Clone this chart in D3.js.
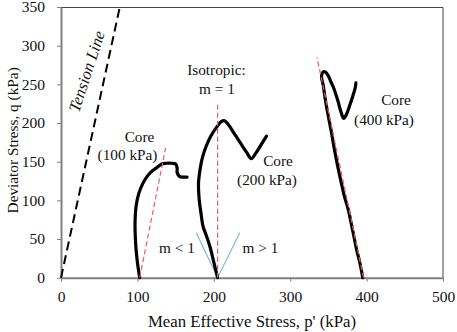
<!DOCTYPE html>
<html>
<head>
<meta charset="utf-8">
<script src="https://cdn.jsdelivr.net/npm/d3@7"></script>
<style>
  body { margin: 0; background: #fff; }
  svg text { font-family: 'Liberation Serif', Tinos, 'Times New Roman', 'DejaVu Serif', serif !important; }
</style>
</head>
<body>
<svg id="chart"></svg>
<script>
// p' (kPa), q (kPa)
const core100 = [[103,0],[100,20],[98,40],[97,60],[97,75],[98,90],[100,102],[104,115],[110,127],[117,136],[125,142],[132,147],[138,148],[145,148],[150,147],[152,142],[152,136],[155,131],[160,130],[165,130]];
const core200 = [[205,0],[200,20],[195,40],[190,55],[186,66],[183,85],[181,100],[180,122],[182,140],[185,155],[190,170],[196,183],[204,195],[210,202],[214,203],[219,198],[227,186],[235,174],[243,162],[249,154],[255,161],[262,172],[269,183]];
const core400 = [[395,0],[391,20],[387,36],[382,60],[376,88],[371,105],[367,122],[362,145],[358,165],[354,188],[350,208],[346,230],[343,250],[341,260],[343,266],[346,266],[350,261],[353,254],[357,245],[362,230],[366,216],[370,206],[374,212],[378,223],[382,235],[385,245],[386,252]];

const redLines = [
  [[103,0],[137,168]],
  [[205,0],[205,225]],
  [[396,0],[335,285]]
];
const blueLine = [[177,58],[205,0],[234,58]];
const tensionLine = [[0,0],[77,350]];

const xTicks = [0, 100, 200, 300, 400, 500];
const yTicks = [0, 50, 100, 150, 200, 250, 300, 350];

const margin = {top: 7, bottom: 54.3, left: 61, right: 14};
const width = 457 - margin.left - margin.right;
const height = 332 - margin.top - margin.bottom;

const svg = d3.select('#chart')
.attr('width', 457)
.attr('height', 332)
.append('g')
.attr('transform', `translate(${margin.left}, ${margin.top})`);

const x = d3.scaleLinear().domain([0, 500]).range([0, width]);
const y = d3.scaleLinear().domain([0, 350]).range([height, 0]);

// top and right frame
svg.append('path')
.attr('d', `M0,0.5H${width}V${height}`)
.attr('fill', 'none')
.attr('stroke', '#444')
.attr('stroke-width', 1);

const xAxis = svg.append('g')
.attr('transform', `translate(0, ${height})`)
.call(d3.axisBottom(x).tickValues(xTicks).tickSize(4).tickPadding(9).tickSizeOuter(0));

const yAxis = svg.append('g')
.call(d3.axisLeft(y).tickValues(yTicks).tickSize(4).tickPadding(12).tickSizeOuter(0));

[xAxis, yAxis].forEach(a => {
  a.attr('font-family', null).attr('font-size', null);
  a.select('.domain').attr('stroke', '#808080').attr('stroke-width', 2);
  a.selectAll('.tick line').attr('stroke', '#808080').attr('stroke-width', 1);
  a.selectAll('.tick text')
  .attr('fill', '#111')
  .style('font-size', '15.5px');
});

svg.append('text')
.attr('x', width / 2)
.attr('y', height + 49)
.attr('text-anchor', 'middle')
.style('font-size', '16.8px')
.attr('fill', '#111')
.text("Mean Effective Stress, p' (kPa)");

svg.append('text')
.attr('transform', 'rotate(-90)')
.attr('x', -height / 2 + 2)
.attr('y', -43)
.attr('text-anchor', 'middle')
.style('font-size', '15.3px')
.attr('fill', '#111')
.text('Deviator Stress, q (kPa)');

const line = d3.line()
.x(d => x(d[0]))
.y(d => y(d[1]));

// tension line
svg.append('path')
.datum(tensionLine)
.attr('fill', 'none')
.attr('stroke', '#000')
.attr('stroke-width', 2)
.attr('stroke-dasharray', '9,5')
.attr('d', line);

// blue m lines
svg.append('path')
.datum(blueLine)
.attr('fill', 'none')
.attr('stroke', '#7ab8dc')
.attr('stroke-width', 1.2)
.attr('d', line);

// core curves
const smooth = d3.line()
.x(d => x(d[0]))
.y(d => y(d[1]))
.curve(d3.curveCatmullRom);

[core100, core200, core400].forEach(c => {
  svg.append('path')
  .datum(c)
  .attr('fill', 'none')
  .attr('stroke', '#000')
  .attr('stroke-width', 3.2)
  .attr('stroke-linejoin', 'round')
  .attr('stroke-linecap', 'round')
  .attr('d', smooth);
});

// red dashed lines
redLines.forEach(r => {
  svg.append('path')
  .datum(r)
  .attr('fill', 'none')
  .attr('stroke', '#ee5a62')
  .attr('stroke-width', 1.2)
  .attr('stroke-dasharray', '5,3')
  .attr('d', line);
});

const labels = [
  {t: 'Core', px: 139.5, py: 141.5},
  {t: '(100 kPa)', px: 127.5, py: 160},
  {t: 'Isotropic:', px: 216.5, py: 75},
  {t: 'm = 1', px: 217, py: 94},
  {t: 'Core', px: 278, py: 165.5},
  {t: '(200 kPa)', px: 267, py: 185},
  {t: 'Core', px: 396, py: 105},
  {t: '(400 kPa)', px: 384, py: 125},
  {t: 'm < 1', px: 177, py: 252.5},
  {t: 'm > 1', px: 260.5, py: 252.5}
];

labels.forEach(l => {
  svg.append('text')
  .attr('x', l.px - margin.left)
  .attr('y', l.py - margin.top)
  .attr('text-anchor', 'middle')
  .style('font-size', '15.3px')
  .attr('fill', '#111')
  .text(l.t);
});

svg.append('text')
.attr('transform', `translate(${92 - margin.left}, ${73 - margin.top}) rotate(-72)`)
.attr('text-anchor', 'middle')
.style('font-size', '16.5px')
.style('font-style', 'italic')
.attr('fill', '#111')
.text('Tension Line');
</script>
</body>
</html>
